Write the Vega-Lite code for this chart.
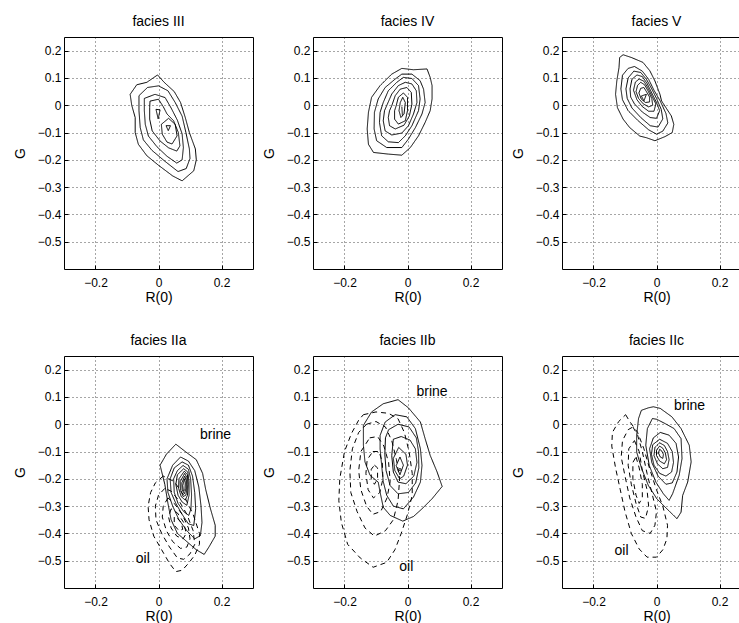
{
  "$schema": "https://vega.github.io/schema/vega-lite/v6.json",
  "background": "white",
  "padding": {"left": 12, "top": 14, "right": 5, "bottom": 5},
  "config": {
    "font": "Liberation Sans",
    "view": {"stroke": "black", "strokeWidth": 1},
    "axis": {
      "domain": false,
      "grid": true,
      "gridColor": "black",
      "gridDash": [1, 3],
      "gridWidth": 1,
      "gridOpacity": 0.7,
      "ticks": true,
      "tickColor": "black",
      "tickSize": -4,
      "labelFont": "Liberation Sans",
      "labelFontSize": 12,
      "labelColor": "black",
      "titleFont": "Liberation Sans",
      "titleFontSize": 14,
      "titleFontWeight": "normal",
      "titleColor": "black"
    }
  },
  "data": {"values": [
    {"p":"III","k":"brine","c":1,"x":-0.09,"y":0.04},{"p":"III","k":"brine","c":1,"x":-0.069,"y":0.075},{"p":"III","k":"brine","c":1,"x":-0.037,"y":0.084},{"p":"III","k":"brine","c":1,"x":-0.003,"y":0.111},{"p":"III","k":"brine","c":1,"x":0.018,"y":0.084},{"p":"III","k":"brine","c":1,"x":0.05,"y":0.05},{"p":"III","k":"brine","c":1,"x":0.07,"y":0.01},{"p":"III","k":"brine","c":1,"x":0.085,"y":-0.045},{"p":"III","k":"brine","c":1,"x":0.098,"y":-0.1},{"p":"III","k":"brine","c":1,"x":0.117,"y":-0.16},{"p":"III","k":"brine","c":1,"x":0.12,"y":-0.2},{"p":"III","k":"brine","c":1,"x":0.112,"y":-0.24},{"p":"III","k":"brine","c":1,"x":0.075,"y":-0.277},{"p":"III","k":"brine","c":1,"x":0.045,"y":-0.259},{"p":"III","k":"brine","c":1,"x":0.0,"y":-0.22},{"p":"III","k":"brine","c":1,"x":-0.037,"y":-0.185},{"p":"III","k":"brine","c":1,"x":-0.064,"y":-0.143},{"p":"III","k":"brine","c":1,"x":-0.074,"y":-0.1},{"p":"III","k":"brine","c":1,"x":-0.074,"y":-0.045},{"p":"III","k":"brine","c":1,"x":-0.085,"y":0.0},{"p":"III","k":"brine","c":1,"x":-0.09,"y":0.04},
    {"p":"III","k":"brine","c":2,"x":-0.062,"y":0.035},{"p":"III","k":"brine","c":2,"x":-0.035,"y":0.065},{"p":"III","k":"brine","c":2,"x":0.0,"y":0.071},{"p":"III","k":"brine","c":2,"x":0.03,"y":0.053},{"p":"III","k":"brine","c":2,"x":0.053,"y":0.01},{"p":"III","k":"brine","c":2,"x":0.075,"y":-0.04},{"p":"III","k":"brine","c":2,"x":0.087,"y":-0.1},{"p":"III","k":"brine","c":2,"x":0.098,"y":-0.16},{"p":"III","k":"brine","c":2,"x":0.1,"y":-0.195},{"p":"III","k":"brine","c":2,"x":0.088,"y":-0.232},{"p":"III","k":"brine","c":2,"x":0.062,"y":-0.243},{"p":"III","k":"brine","c":2,"x":0.02,"y":-0.205},{"p":"III","k":"brine","c":2,"x":-0.021,"y":-0.165},{"p":"III","k":"brine","c":2,"x":-0.048,"y":-0.127},{"p":"III","k":"brine","c":2,"x":-0.058,"y":-0.082},{"p":"III","k":"brine","c":2,"x":-0.062,"y":-0.02},{"p":"III","k":"brine","c":2,"x":-0.062,"y":0.035},
    {"p":"III","k":"brine","c":3,"x":-0.045,"y":0.025},{"p":"III","k":"brine","c":3,"x":-0.011,"y":0.04},{"p":"III","k":"brine","c":3,"x":0.021,"y":0.028},{"p":"III","k":"brine","c":3,"x":0.04,"y":-0.01},{"p":"III","k":"brine","c":3,"x":0.06,"y":-0.055},{"p":"III","k":"brine","c":3,"x":0.075,"y":-0.105},{"p":"III","k":"brine","c":3,"x":0.079,"y":-0.155},{"p":"III","k":"brine","c":3,"x":0.075,"y":-0.2},{"p":"III","k":"brine","c":3,"x":0.058,"y":-0.212},{"p":"III","k":"brine","c":3,"x":0.027,"y":-0.187},{"p":"III","k":"brine","c":3,"x":-0.005,"y":-0.152},{"p":"III","k":"brine","c":3,"x":-0.032,"y":-0.113},{"p":"III","k":"brine","c":3,"x":-0.042,"y":-0.07},{"p":"III","k":"brine","c":3,"x":-0.045,"y":-0.02},{"p":"III","k":"brine","c":3,"x":-0.045,"y":0.025},
    {"p":"III","k":"brine","c":4,"x":-0.027,"y":0.015},{"p":"III","k":"brine","c":4,"x":0.0,"y":0.022},{"p":"III","k":"brine","c":4,"x":0.015,"y":-0.005},{"p":"III","k":"brine","c":4,"x":0.027,"y":-0.032},{"p":"III","k":"brine","c":4,"x":0.048,"y":-0.057},{"p":"III","k":"brine","c":4,"x":0.063,"y":-0.1},{"p":"III","k":"brine","c":4,"x":0.068,"y":-0.149},{"p":"III","k":"brine","c":4,"x":0.058,"y":-0.168},{"p":"III","k":"brine","c":4,"x":0.032,"y":-0.156},{"p":"III","k":"brine","c":4,"x":0.005,"y":-0.131},{"p":"III","k":"brine","c":4,"x":-0.02,"y":-0.094},{"p":"III","k":"brine","c":4,"x":-0.028,"y":-0.051},{"p":"III","k":"brine","c":4,"x":-0.028,"y":-0.008},{"p":"III","k":"brine","c":4,"x":-0.027,"y":0.015},
    {"p":"III","k":"brine","c":5,"x":0.009,"y":-0.07},{"p":"III","k":"brine","c":5,"x":0.032,"y":-0.048},{"p":"III","k":"brine","c":5,"x":0.053,"y":-0.07},{"p":"III","k":"brine","c":5,"x":0.059,"y":-0.112},{"p":"III","k":"brine","c":5,"x":0.043,"y":-0.142},{"p":"III","k":"brine","c":5,"x":0.027,"y":-0.135},{"p":"III","k":"brine","c":5,"x":0.012,"y":-0.106},{"p":"III","k":"brine","c":5,"x":0.009,"y":-0.07},
    {"p":"III","k":"brine","c":6,"x":-0.008,"y":-0.015},{"p":"III","k":"brine","c":6,"x":0.005,"y":-0.017},{"p":"III","k":"brine","c":6,"x":-0.001,"y":-0.05},{"p":"III","k":"brine","c":6,"x":-0.008,"y":-0.015},
    {"p":"III","k":"brine","c":7,"x":0.024,"y":-0.075},{"p":"III","k":"brine","c":7,"x":0.038,"y":-0.075},{"p":"III","k":"brine","c":7,"x":0.031,"y":-0.093},{"p":"III","k":"brine","c":7,"x":0.024,"y":-0.075},

    {"p":"IV","k":"brine","c":1,"x":-0.114,"y":0.029},{"p":"IV","k":"brine","c":1,"x":-0.087,"y":0.072},{"p":"IV","k":"brine","c":1,"x":-0.05,"y":0.114},{"p":"IV","k":"brine","c":1,"x":-0.018,"y":0.135},{"p":"IV","k":"brine","c":1,"x":0.019,"y":0.13},{"p":"IV","k":"brine","c":1,"x":0.062,"y":0.133},{"p":"IV","k":"brine","c":1,"x":0.072,"y":0.102},{"p":"IV","k":"brine","c":1,"x":0.078,"y":0.072},{"p":"IV","k":"brine","c":1,"x":0.078,"y":0.023},{"p":"IV","k":"brine","c":1,"x":0.072,"y":-0.02},{"p":"IV","k":"brine","c":1,"x":0.056,"y":-0.063},{"p":"IV","k":"brine","c":1,"x":0.035,"y":-0.112},{"p":"IV","k":"brine","c":1,"x":0.009,"y":-0.155},{"p":"IV","k":"brine","c":1,"x":-0.018,"y":-0.183},{"p":"IV","k":"brine","c":1,"x":-0.061,"y":-0.179},{"p":"IV","k":"brine","c":1,"x":-0.108,"y":-0.173},{"p":"IV","k":"brine","c":1,"x":-0.124,"y":-0.143},{"p":"IV","k":"brine","c":1,"x":-0.128,"y":-0.087},{"p":"IV","k":"brine","c":1,"x":-0.124,"y":-0.026},{"p":"IV","k":"brine","c":1,"x":-0.114,"y":0.029},
    {"p":"IV","k":"brine","c":2,"x":-0.093,"y":0.023},{"p":"IV","k":"brine","c":2,"x":-0.071,"y":0.065},{"p":"IV","k":"brine","c":2,"x":-0.039,"y":0.096},{"p":"IV","k":"brine","c":2,"x":-0.018,"y":0.114},{"p":"IV","k":"brine","c":2,"x":0.014,"y":0.114},{"p":"IV","k":"brine","c":2,"x":0.04,"y":0.09},{"p":"IV","k":"brine","c":2,"x":0.051,"y":0.059},{"p":"IV","k":"brine","c":2,"x":0.056,"y":0.01},{"p":"IV","k":"brine","c":2,"x":0.046,"y":-0.032},{"p":"IV","k":"brine","c":2,"x":0.025,"y":-0.082},{"p":"IV","k":"brine","c":2,"x":0.003,"y":-0.124},{"p":"IV","k":"brine","c":2,"x":-0.018,"y":-0.155},{"p":"IV","k":"brine","c":2,"x":-0.066,"y":-0.155},{"p":"IV","k":"brine","c":2,"x":-0.098,"y":-0.13},{"p":"IV","k":"brine","c":2,"x":-0.106,"y":-0.087},{"p":"IV","k":"brine","c":2,"x":-0.105,"y":-0.026},{"p":"IV","k":"brine","c":2,"x":-0.093,"y":0.023},
    {"p":"IV","k":"brine","c":3,"x":-0.077,"y":0.01},{"p":"IV","k":"brine","c":3,"x":-0.061,"y":0.053},{"p":"IV","k":"brine","c":3,"x":-0.034,"y":0.084},{"p":"IV","k":"brine","c":3,"x":-0.013,"y":0.102},{"p":"IV","k":"brine","c":3,"x":0.014,"y":0.098},{"p":"IV","k":"brine","c":3,"x":0.035,"y":0.072},{"p":"IV","k":"brine","c":3,"x":0.04,"y":0.023},{"p":"IV","k":"brine","c":3,"x":0.035,"y":-0.02},{"p":"IV","k":"brine","c":3,"x":0.014,"y":-0.075},{"p":"IV","k":"brine","c":3,"x":-0.007,"y":-0.112},{"p":"IV","k":"brine","c":3,"x":-0.029,"y":-0.137},{"p":"IV","k":"brine","c":3,"x":-0.061,"y":-0.134},{"p":"IV","k":"brine","c":3,"x":-0.082,"y":-0.112},{"p":"IV","k":"brine","c":3,"x":-0.089,"y":-0.063},{"p":"IV","k":"brine","c":3,"x":-0.087,"y":-0.026},{"p":"IV","k":"brine","c":3,"x":-0.077,"y":0.01},
    {"p":"IV","k":"brine","c":4,"x":-0.064,"y":0.004},{"p":"IV","k":"brine","c":4,"x":-0.05,"y":0.041},{"p":"IV","k":"brine","c":4,"x":-0.029,"y":0.072},{"p":"IV","k":"brine","c":4,"x":-0.007,"y":0.084},{"p":"IV","k":"brine","c":4,"x":0.014,"y":0.078},{"p":"IV","k":"brine","c":4,"x":0.028,"y":0.053},{"p":"IV","k":"brine","c":4,"x":0.03,"y":0.01},{"p":"IV","k":"brine","c":4,"x":0.019,"y":-0.032},{"p":"IV","k":"brine","c":4,"x":0.003,"y":-0.075},{"p":"IV","k":"brine","c":4,"x":-0.018,"y":-0.102},{"p":"IV","k":"brine","c":4,"x":-0.05,"y":-0.109},{"p":"IV","k":"brine","c":4,"x":-0.071,"y":-0.094},{"p":"IV","k":"brine","c":4,"x":-0.077,"y":-0.057},{"p":"IV","k":"brine","c":4,"x":-0.073,"y":-0.02},{"p":"IV","k":"brine","c":4,"x":-0.064,"y":0.004},
    {"p":"IV","k":"brine","c":5,"x":-0.05,"y":-0.002},{"p":"IV","k":"brine","c":5,"x":-0.039,"y":0.035},{"p":"IV","k":"brine","c":5,"x":-0.023,"y":0.059},{"p":"IV","k":"brine","c":5,"x":-0.002,"y":0.065},{"p":"IV","k":"brine","c":5,"x":0.012,"y":0.047},{"p":"IV","k":"brine","c":5,"x":0.014,"y":0.004},{"p":"IV","k":"brine","c":5,"x":0.006,"y":-0.039},{"p":"IV","k":"brine","c":5,"x":-0.011,"y":-0.073},{"p":"IV","k":"brine","c":5,"x":-0.039,"y":-0.087},{"p":"IV","k":"brine","c":5,"x":-0.057,"y":-0.075},{"p":"IV","k":"brine","c":5,"x":-0.061,"y":-0.045},{"p":"IV","k":"brine","c":5,"x":-0.057,"y":-0.02},{"p":"IV","k":"brine","c":5,"x":-0.05,"y":-0.002},
    {"p":"IV","k":"brine","c":6,"x":-0.036,"y":-0.002},{"p":"IV","k":"brine","c":6,"x":-0.029,"y":0.029},{"p":"IV","k":"brine","c":6,"x":-0.013,"y":0.045},{"p":"IV","k":"brine","c":6,"x":0.0,"y":0.029},{"p":"IV","k":"brine","c":6,"x":0.0,"y":-0.02},{"p":"IV","k":"brine","c":6,"x":-0.007,"y":-0.057},{"p":"IV","k":"brine","c":6,"x":-0.029,"y":-0.069},{"p":"IV","k":"brine","c":6,"x":-0.041,"y":-0.051},{"p":"IV","k":"brine","c":6,"x":-0.041,"y":-0.02},{"p":"IV","k":"brine","c":6,"x":-0.036,"y":-0.002},
    {"p":"IV","k":"brine","c":7,"x":-0.023,"y":0.01},{"p":"IV","k":"brine","c":7,"x":-0.015,"y":0.029},{"p":"IV","k":"brine","c":7,"x":-0.007,"y":0.01},{"p":"IV","k":"brine","c":7,"x":-0.011,"y":-0.032},{"p":"IV","k":"brine","c":7,"x":-0.021,"y":-0.045},{"p":"IV","k":"brine","c":7,"x":-0.027,"y":-0.02},{"p":"IV","k":"brine","c":7,"x":-0.023,"y":0.01},
    {"p":"IV","k":"brine","c":8,"x":-0.018,"y":-0.005},{"p":"IV","k":"brine","c":8,"x":-0.016,"y":-0.04},

    {"p":"V","k":"brine","c":1,"x":-0.117,"y":0.175},{"p":"V","k":"brine","c":1,"x":-0.106,"y":0.185},{"p":"V","k":"brine","c":1,"x":-0.08,"y":0.175},{"p":"V","k":"brine","c":1,"x":-0.043,"y":0.157},{"p":"V","k":"brine","c":1,"x":-0.021,"y":0.126},{"p":"V","k":"brine","c":1,"x":-0.005,"y":0.089},{"p":"V","k":"brine","c":1,"x":0.011,"y":0.04},{"p":"V","k":"brine","c":1,"x":0.016,"y":0.016},{"p":"V","k":"brine","c":1,"x":0.03,"y":-0.009},{"p":"V","k":"brine","c":1,"x":0.047,"y":-0.039},{"p":"V","k":"brine","c":1,"x":0.055,"y":-0.07},{"p":"V","k":"brine","c":1,"x":0.05,"y":-0.1},{"p":"V","k":"brine","c":1,"x":0.027,"y":-0.115},{"p":"V","k":"brine","c":1,"x":-0.005,"y":-0.13},{"p":"V","k":"brine","c":1,"x":-0.032,"y":-0.119},{"p":"V","k":"brine","c":1,"x":-0.053,"y":-0.113},{"p":"V","k":"brine","c":1,"x":-0.085,"y":-0.082},{"p":"V","k":"brine","c":1,"x":-0.106,"y":-0.051},{"p":"V","k":"brine","c":1,"x":-0.124,"y":-0.009},{"p":"V","k":"brine","c":1,"x":-0.13,"y":0.04},{"p":"V","k":"brine","c":1,"x":-0.126,"y":0.089},{"p":"V","k":"brine","c":1,"x":-0.119,"y":0.138},{"p":"V","k":"brine","c":1,"x":-0.117,"y":0.175},
    {"p":"V","k":"brine","c":2,"x":-0.113,"y":0.06},{"p":"V","k":"brine","c":2,"x":-0.108,"y":0.11},{"p":"V","k":"brine","c":2,"x":-0.09,"y":0.135},{"p":"V","k":"brine","c":2,"x":-0.07,"y":0.142},{"p":"V","k":"brine","c":2,"x":-0.045,"y":0.125},{"p":"V","k":"brine","c":2,"x":-0.025,"y":0.095},{"p":"V","k":"brine","c":2,"x":-0.008,"y":0.055},{"p":"V","k":"brine","c":2,"x":0.012,"y":0.015},{"p":"V","k":"brine","c":2,"x":0.03,"y":-0.03},{"p":"V","k":"brine","c":2,"x":0.036,"y":-0.065},{"p":"V","k":"brine","c":2,"x":0.02,"y":-0.095},{"p":"V","k":"brine","c":2,"x":0.0,"y":-0.106},{"p":"V","k":"brine","c":2,"x":-0.025,"y":-0.09},{"p":"V","k":"brine","c":2,"x":-0.06,"y":-0.055},{"p":"V","k":"brine","c":2,"x":-0.09,"y":-0.02},{"p":"V","k":"brine","c":2,"x":-0.108,"y":0.02},{"p":"V","k":"brine","c":2,"x":-0.113,"y":0.06},
    {"p":"V","k":"brine","c":3,"x":-0.097,"y":0.06},{"p":"V","k":"brine","c":3,"x":-0.09,"y":0.1},{"p":"V","k":"brine","c":3,"x":-0.072,"y":0.125},{"p":"V","k":"brine","c":3,"x":-0.05,"y":0.12},{"p":"V","k":"brine","c":3,"x":-0.032,"y":0.095},{"p":"V","k":"brine","c":3,"x":-0.015,"y":0.06},{"p":"V","k":"brine","c":3,"x":0.0,"y":0.025},{"p":"V","k":"brine","c":3,"x":0.015,"y":-0.015},{"p":"V","k":"brine","c":3,"x":0.02,"y":-0.05},{"p":"V","k":"brine","c":3,"x":0.005,"y":-0.08},{"p":"V","k":"brine","c":3,"x":-0.02,"y":-0.075},{"p":"V","k":"brine","c":3,"x":-0.05,"y":-0.045},{"p":"V","k":"brine","c":3,"x":-0.078,"y":-0.01},{"p":"V","k":"brine","c":3,"x":-0.093,"y":0.025},{"p":"V","k":"brine","c":3,"x":-0.097,"y":0.06},
    {"p":"V","k":"brine","c":4,"x":-0.084,"y":0.06},{"p":"V","k":"brine","c":4,"x":-0.078,"y":0.095},{"p":"V","k":"brine","c":4,"x":-0.062,"y":0.111},{"p":"V","k":"brine","c":4,"x":-0.045,"y":0.105},{"p":"V","k":"brine","c":4,"x":-0.03,"y":0.08},{"p":"V","k":"brine","c":4,"x":-0.015,"y":0.045},{"p":"V","k":"brine","c":4,"x":0.0,"y":0.01},{"p":"V","k":"brine","c":4,"x":0.01,"y":-0.02},{"p":"V","k":"brine","c":4,"x":0.0,"y":-0.048},{"p":"V","k":"brine","c":4,"x":-0.02,"y":-0.045},{"p":"V","k":"brine","c":4,"x":-0.045,"y":-0.025},{"p":"V","k":"brine","c":4,"x":-0.07,"y":0.005},{"p":"V","k":"brine","c":4,"x":-0.082,"y":0.03},{"p":"V","k":"brine","c":4,"x":-0.084,"y":0.06},
    {"p":"V","k":"brine","c":5,"x":-0.073,"y":0.055},{"p":"V","k":"brine","c":5,"x":-0.067,"y":0.085},{"p":"V","k":"brine","c":5,"x":-0.055,"y":0.096},{"p":"V","k":"brine","c":5,"x":-0.04,"y":0.088},{"p":"V","k":"brine","c":5,"x":-0.028,"y":0.065},{"p":"V","k":"brine","c":5,"x":-0.015,"y":0.035},{"p":"V","k":"brine","c":5,"x":-0.002,"y":0.005},{"p":"V","k":"brine","c":5,"x":-0.008,"y":-0.022},{"p":"V","k":"brine","c":5,"x":-0.025,"y":-0.022},{"p":"V","k":"brine","c":5,"x":-0.045,"y":-0.005},{"p":"V","k":"brine","c":5,"x":-0.062,"y":0.02},{"p":"V","k":"brine","c":5,"x":-0.073,"y":0.055},
    {"p":"V","k":"brine","c":6,"x":-0.065,"y":0.05},{"p":"V","k":"brine","c":6,"x":-0.06,"y":0.073},{"p":"V","k":"brine","c":6,"x":-0.05,"y":0.084},{"p":"V","k":"brine","c":6,"x":-0.038,"y":0.075},{"p":"V","k":"brine","c":6,"x":-0.028,"y":0.055},{"p":"V","k":"brine","c":6,"x":-0.015,"y":0.025},{"p":"V","k":"brine","c":6,"x":-0.012,"y":0.0},{"p":"V","k":"brine","c":6,"x":-0.025,"y":-0.006},{"p":"V","k":"brine","c":6,"x":-0.042,"y":0.005},{"p":"V","k":"brine","c":6,"x":-0.057,"y":0.025},{"p":"V","k":"brine","c":6,"x":-0.065,"y":0.05},
    {"p":"V","k":"brine","c":7,"x":-0.056,"y":0.045},{"p":"V","k":"brine","c":7,"x":-0.05,"y":0.062},{"p":"V","k":"brine","c":7,"x":-0.04,"y":0.065},{"p":"V","k":"brine","c":7,"x":-0.032,"y":0.05},{"p":"V","k":"brine","c":7,"x":-0.022,"y":0.03},{"p":"V","k":"brine","c":7,"x":-0.022,"y":0.012},{"p":"V","k":"brine","c":7,"x":-0.035,"y":0.01},{"p":"V","k":"brine","c":7,"x":-0.048,"y":0.022},{"p":"V","k":"brine","c":7,"x":-0.056,"y":0.045},
    {"p":"V","k":"brine","c":8,"x":-0.048,"y":0.034},{"p":"V","k":"brine","c":8,"x":-0.032,"y":0.04},{"p":"V","k":"brine","c":8,"x":-0.04,"y":0.016},{"p":"V","k":"brine","c":8,"x":-0.048,"y":0.034},

    {"p":"IIa","k":"brine","c":1,"x":0.055,"y":-0.073},{"p":"IIa","k":"brine","c":1,"x":0.085,"y":-0.1},{"p":"IIa","k":"brine","c":1,"x":0.12,"y":-0.13},{"p":"IIa","k":"brine","c":1,"x":0.14,"y":-0.18},{"p":"IIa","k":"brine","c":1,"x":0.15,"y":-0.24},{"p":"IIa","k":"brine","c":1,"x":0.165,"y":-0.31},{"p":"IIa","k":"brine","c":1,"x":0.18,"y":-0.37},{"p":"IIa","k":"brine","c":1,"x":0.18,"y":-0.41},{"p":"IIa","k":"brine","c":1,"x":0.16,"y":-0.45},{"p":"IIa","k":"brine","c":1,"x":0.145,"y":-0.477},{"p":"IIa","k":"brine","c":1,"x":0.12,"y":-0.46},{"p":"IIa","k":"brine","c":1,"x":0.09,"y":-0.43},{"p":"IIa","k":"brine","c":1,"x":0.06,"y":-0.4},{"p":"IIa","k":"brine","c":1,"x":0.04,"y":-0.35},{"p":"IIa","k":"brine","c":1,"x":0.03,"y":-0.29},{"p":"IIa","k":"brine","c":1,"x":0.02,"y":-0.22},{"p":"IIa","k":"brine","c":1,"x":0.005,"y":-0.15},{"p":"IIa","k":"brine","c":1,"x":0.025,"y":-0.11},{"p":"IIa","k":"brine","c":1,"x":0.055,"y":-0.073},
    {"p":"IIa","k":"brine","c":2,"x":0.07,"y":-0.12},{"p":"IIa","k":"brine","c":2,"x":0.095,"y":-0.135},{"p":"IIa","k":"brine","c":2,"x":0.115,"y":-0.17},{"p":"IIa","k":"brine","c":2,"x":0.128,"y":-0.23},{"p":"IIa","k":"brine","c":2,"x":0.135,"y":-0.3},{"p":"IIa","k":"brine","c":2,"x":0.138,"y":-0.36},{"p":"IIa","k":"brine","c":2,"x":0.133,"y":-0.408},{"p":"IIa","k":"brine","c":2,"x":0.115,"y":-0.42},{"p":"IIa","k":"brine","c":2,"x":0.09,"y":-0.39},{"p":"IIa","k":"brine","c":2,"x":0.065,"y":-0.35},{"p":"IIa","k":"brine","c":2,"x":0.045,"y":-0.3},{"p":"IIa","k":"brine","c":2,"x":0.03,"y":-0.25},{"p":"IIa","k":"brine","c":2,"x":0.027,"y":-0.2},{"p":"IIa","k":"brine","c":2,"x":0.045,"y":-0.15},{"p":"IIa","k":"brine","c":2,"x":0.07,"y":-0.12},
    {"p":"IIa","k":"brine","c":3,"x":0.075,"y":-0.138},{"p":"IIa","k":"brine","c":3,"x":0.095,"y":-0.15},{"p":"IIa","k":"brine","c":3,"x":0.108,"y":-0.19},{"p":"IIa","k":"brine","c":3,"x":0.115,"y":-0.25},{"p":"IIa","k":"brine","c":3,"x":0.118,"y":-0.31},{"p":"IIa","k":"brine","c":3,"x":0.112,"y":-0.371},{"p":"IIa","k":"brine","c":3,"x":0.095,"y":-0.365},{"p":"IIa","k":"brine","c":3,"x":0.075,"y":-0.33},{"p":"IIa","k":"brine","c":3,"x":0.055,"y":-0.29},{"p":"IIa","k":"brine","c":3,"x":0.04,"y":-0.25},{"p":"IIa","k":"brine","c":3,"x":0.037,"y":-0.2},{"p":"IIa","k":"brine","c":3,"x":0.05,"y":-0.16},{"p":"IIa","k":"brine","c":3,"x":0.075,"y":-0.138},
    {"p":"IIa","k":"brine","c":4,"x":0.078,"y":-0.151},{"p":"IIa","k":"brine","c":4,"x":0.095,"y":-0.165},{"p":"IIa","k":"brine","c":4,"x":0.102,"y":-0.2},{"p":"IIa","k":"brine","c":4,"x":0.105,"y":-0.26},{"p":"IIa","k":"brine","c":4,"x":0.103,"y":-0.31},{"p":"IIa","k":"brine","c":4,"x":0.096,"y":-0.334},{"p":"IIa","k":"brine","c":4,"x":0.08,"y":-0.32},{"p":"IIa","k":"brine","c":4,"x":0.062,"y":-0.29},{"p":"IIa","k":"brine","c":4,"x":0.05,"y":-0.25},{"p":"IIa","k":"brine","c":4,"x":0.048,"y":-0.2},{"p":"IIa","k":"brine","c":4,"x":0.06,"y":-0.17},{"p":"IIa","k":"brine","c":4,"x":0.078,"y":-0.151},
    {"p":"IIa","k":"brine","c":5,"x":0.08,"y":-0.163},{"p":"IIa","k":"brine","c":5,"x":0.093,"y":-0.175},{"p":"IIa","k":"brine","c":5,"x":0.097,"y":-0.21},{"p":"IIa","k":"brine","c":5,"x":0.097,"y":-0.26},{"p":"IIa","k":"brine","c":5,"x":0.09,"y":-0.297},{"p":"IIa","k":"brine","c":5,"x":0.075,"y":-0.285},{"p":"IIa","k":"brine","c":5,"x":0.062,"y":-0.26},{"p":"IIa","k":"brine","c":5,"x":0.055,"y":-0.22},{"p":"IIa","k":"brine","c":5,"x":0.06,"y":-0.185},{"p":"IIa","k":"brine","c":5,"x":0.08,"y":-0.163},
    {"p":"IIa","k":"brine","c":6,"x":0.082,"y":-0.172},{"p":"IIa","k":"brine","c":6,"x":0.092,"y":-0.185},{"p":"IIa","k":"brine","c":6,"x":0.094,"y":-0.22},{"p":"IIa","k":"brine","c":6,"x":0.092,"y":-0.26},{"p":"IIa","k":"brine","c":6,"x":0.085,"y":-0.278},{"p":"IIa","k":"brine","c":6,"x":0.072,"y":-0.265},{"p":"IIa","k":"brine","c":6,"x":0.064,"y":-0.235},{"p":"IIa","k":"brine","c":6,"x":0.065,"y":-0.2},{"p":"IIa","k":"brine","c":6,"x":0.082,"y":-0.172},
    {"p":"IIa","k":"brine","c":7,"x":0.083,"y":-0.18},{"p":"IIa","k":"brine","c":7,"x":0.09,"y":-0.195},{"p":"IIa","k":"brine","c":7,"x":0.091,"y":-0.23},{"p":"IIa","k":"brine","c":7,"x":0.087,"y":-0.26},{"p":"IIa","k":"brine","c":7,"x":0.078,"y":-0.265},{"p":"IIa","k":"brine","c":7,"x":0.07,"y":-0.24},{"p":"IIa","k":"brine","c":7,"x":0.069,"y":-0.21},{"p":"IIa","k":"brine","c":7,"x":0.083,"y":-0.18},
    {"p":"IIa","k":"brine","c":8,"x":0.083,"y":-0.19},{"p":"IIa","k":"brine","c":8,"x":0.088,"y":-0.205},{"p":"IIa","k":"brine","c":8,"x":0.088,"y":-0.235},{"p":"IIa","k":"brine","c":8,"x":0.082,"y":-0.255},{"p":"IIa","k":"brine","c":8,"x":0.075,"y":-0.24},{"p":"IIa","k":"brine","c":8,"x":0.074,"y":-0.215},{"p":"IIa","k":"brine","c":8,"x":0.083,"y":-0.19},
    {"p":"IIa","k":"brine","c":9,"x":0.082,"y":-0.2},{"p":"IIa","k":"brine","c":9,"x":0.085,"y":-0.215},{"p":"IIa","k":"brine","c":9,"x":0.084,"y":-0.24},{"p":"IIa","k":"brine","c":9,"x":0.079,"y":-0.245},{"p":"IIa","k":"brine","c":9,"x":0.077,"y":-0.225},{"p":"IIa","k":"brine","c":9,"x":0.082,"y":-0.2},
    {"p":"IIa","k":"oil","c":1,"x":0.015,"y":-0.19},{"p":"IIa","k":"oil","c":1,"x":-0.01,"y":-0.215},{"p":"IIa","k":"oil","c":1,"x":-0.025,"y":-0.25},{"p":"IIa","k":"oil","c":1,"x":-0.033,"y":-0.3},{"p":"IIa","k":"oil","c":1,"x":-0.03,"y":-0.35},{"p":"IIa","k":"oil","c":1,"x":-0.015,"y":-0.41},{"p":"IIa","k":"oil","c":1,"x":0.01,"y":-0.46},{"p":"IIa","k":"oil","c":1,"x":0.035,"y":-0.51},{"p":"IIa","k":"oil","c":1,"x":0.055,"y":-0.54},{"p":"IIa","k":"oil","c":1,"x":0.075,"y":-0.535},{"p":"IIa","k":"oil","c":1,"x":0.095,"y":-0.51},{"p":"IIa","k":"oil","c":1,"x":0.115,"y":-0.48},{"p":"IIa","k":"oil","c":1,"x":0.13,"y":-0.44},{"p":"IIa","k":"oil","c":1,"x":0.13,"y":-0.4},{"p":"IIa","k":"oil","c":1,"x":0.11,"y":-0.33},{"p":"IIa","k":"oil","c":1,"x":0.08,"y":-0.26},{"p":"IIa","k":"oil","c":1,"x":0.05,"y":-0.21},{"p":"IIa","k":"oil","c":1,"x":0.015,"y":-0.19},
    {"p":"IIa","k":"oil","c":2,"x":0.02,"y":-0.235},{"p":"IIa","k":"oil","c":2,"x":0.0,"y":-0.26},{"p":"IIa","k":"oil","c":2,"x":-0.01,"y":-0.3},{"p":"IIa","k":"oil","c":2,"x":-0.008,"y":-0.35},{"p":"IIa","k":"oil","c":2,"x":0.01,"y":-0.4},{"p":"IIa","k":"oil","c":2,"x":0.035,"y":-0.45},{"p":"IIa","k":"oil","c":2,"x":0.06,"y":-0.49},{"p":"IIa","k":"oil","c":2,"x":0.08,"y":-0.495},{"p":"IIa","k":"oil","c":2,"x":0.1,"y":-0.475},{"p":"IIa","k":"oil","c":2,"x":0.115,"y":-0.44},{"p":"IIa","k":"oil","c":2,"x":0.11,"y":-0.39},{"p":"IIa","k":"oil","c":2,"x":0.09,"y":-0.33},{"p":"IIa","k":"oil","c":2,"x":0.065,"y":-0.28},{"p":"IIa","k":"oil","c":2,"x":0.04,"y":-0.245},{"p":"IIa","k":"oil","c":2,"x":0.02,"y":-0.235},
    {"p":"IIa","k":"oil","c":3,"x":0.03,"y":-0.27},{"p":"IIa","k":"oil","c":3,"x":0.015,"y":-0.3},{"p":"IIa","k":"oil","c":3,"x":0.012,"y":-0.34},{"p":"IIa","k":"oil","c":3,"x":0.025,"y":-0.39},{"p":"IIa","k":"oil","c":3,"x":0.045,"y":-0.43},{"p":"IIa","k":"oil","c":3,"x":0.07,"y":-0.455},{"p":"IIa","k":"oil","c":3,"x":0.09,"y":-0.45},{"p":"IIa","k":"oil","c":3,"x":0.1,"y":-0.42},{"p":"IIa","k":"oil","c":3,"x":0.095,"y":-0.38},{"p":"IIa","k":"oil","c":3,"x":0.075,"y":-0.33},{"p":"IIa","k":"oil","c":3,"x":0.05,"y":-0.29},{"p":"IIa","k":"oil","c":3,"x":0.03,"y":-0.27},
    {"p":"IIa","k":"oil","c":4,"x":0.04,"y":-0.31},{"p":"IIa","k":"oil","c":4,"x":0.032,"y":-0.34},{"p":"IIa","k":"oil","c":4,"x":0.04,"y":-0.38},{"p":"IIa","k":"oil","c":4,"x":0.058,"y":-0.41},{"p":"IIa","k":"oil","c":4,"x":0.078,"y":-0.42},{"p":"IIa","k":"oil","c":4,"x":0.088,"y":-0.4},{"p":"IIa","k":"oil","c":4,"x":0.08,"y":-0.36},{"p":"IIa","k":"oil","c":4,"x":0.06,"y":-0.325},{"p":"IIa","k":"oil","c":4,"x":0.04,"y":-0.31},
    {"p":"IIa","k":"oil","c":5,"x":0.05,"y":-0.34},{"p":"IIa","k":"oil","c":5,"x":0.05,"y":-0.37},{"p":"IIa","k":"oil","c":5,"x":0.065,"y":-0.39},{"p":"IIa","k":"oil","c":5,"x":0.077,"y":-0.385},{"p":"IIa","k":"oil","c":5,"x":0.072,"y":-0.36},{"p":"IIa","k":"oil","c":5,"x":0.06,"y":-0.345},{"p":"IIa","k":"oil","c":5,"x":0.05,"y":-0.34},

    {"p":"IIb","k":"brine","c":1,"x":-0.14,"y":-0.004},{"p":"IIb","k":"brine","c":1,"x":-0.114,"y":0.045},{"p":"IIb","k":"brine","c":1,"x":-0.077,"y":0.075},{"p":"IIb","k":"brine","c":1,"x":-0.03,"y":0.09},{"p":"IIb","k":"brine","c":1,"x":0.003,"y":0.06},{"p":"IIb","k":"brine","c":1,"x":0.041,"y":0.008},{"p":"IIb","k":"brine","c":1,"x":0.056,"y":-0.053},{"p":"IIb","k":"brine","c":1,"x":0.072,"y":-0.114},{"p":"IIb","k":"brine","c":1,"x":0.094,"y":-0.175},{"p":"IIb","k":"brine","c":1,"x":0.11,"y":-0.228},{"p":"IIb","k":"brine","c":1,"x":0.078,"y":-0.273},{"p":"IIb","k":"brine","c":1,"x":0.046,"y":-0.31},{"p":"IIb","k":"brine","c":1,"x":0.019,"y":-0.338},{"p":"IIb","k":"brine","c":1,"x":-0.015,"y":-0.355},{"p":"IIb","k":"brine","c":1,"x":-0.055,"y":-0.334},{"p":"IIb","k":"brine","c":1,"x":-0.077,"y":-0.304},{"p":"IIb","k":"brine","c":1,"x":-0.087,"y":-0.249},{"p":"IIb","k":"brine","c":1,"x":-0.093,"y":-0.212},{"p":"IIb","k":"brine","c":1,"x":-0.119,"y":-0.187},{"p":"IIb","k":"brine","c":1,"x":-0.135,"y":-0.138},{"p":"IIb","k":"brine","c":1,"x":-0.14,"y":-0.077},{"p":"IIb","k":"brine","c":1,"x":-0.14,"y":-0.004},
    {"p":"IIb","k":"brine","c":2,"x":-0.039,"y":0.035},{"p":"IIb","k":"brine","c":2,"x":-0.002,"y":0.027},{"p":"IIb","k":"brine","c":2,"x":0.025,"y":-0.016},{"p":"IIb","k":"brine","c":2,"x":0.041,"y":-0.09},{"p":"IIb","k":"brine","c":2,"x":0.046,"y":-0.151},{"p":"IIb","k":"brine","c":2,"x":0.041,"y":-0.212},{"p":"IIb","k":"brine","c":2,"x":0.019,"y":-0.267},{"p":"IIb","k":"brine","c":2,"x":-0.013,"y":-0.31},{"p":"IIb","k":"brine","c":2,"x":-0.045,"y":-0.3},{"p":"IIb","k":"brine","c":2,"x":-0.066,"y":-0.26},{"p":"IIb","k":"brine","c":2,"x":-0.077,"y":-0.21},{"p":"IIb","k":"brine","c":2,"x":-0.082,"y":-0.151},{"p":"IIb","k":"brine","c":2,"x":-0.087,"y":-0.09},{"p":"IIb","k":"brine","c":2,"x":-0.087,"y":-0.041},{"p":"IIb","k":"brine","c":2,"x":-0.071,"y":0.008},{"p":"IIb","k":"brine","c":2,"x":-0.039,"y":0.035},
    {"p":"IIb","k":"brine","c":3,"x":-0.06,"y":-0.02},{"p":"IIb","k":"brine","c":3,"x":-0.03,"y":0.0},{"p":"IIb","k":"brine","c":3,"x":0.005,"y":-0.01},{"p":"IIb","k":"brine","c":3,"x":0.028,"y":-0.05},{"p":"IIb","k":"brine","c":3,"x":0.035,"y":-0.1},{"p":"IIb","k":"brine","c":3,"x":0.036,"y":-0.16},{"p":"IIb","k":"brine","c":3,"x":0.026,"y":-0.215},{"p":"IIb","k":"brine","c":3,"x":0.003,"y":-0.25},{"p":"IIb","k":"brine","c":3,"x":-0.03,"y":-0.255},{"p":"IIb","k":"brine","c":3,"x":-0.055,"y":-0.225},{"p":"IIb","k":"brine","c":3,"x":-0.068,"y":-0.17},{"p":"IIb","k":"brine","c":3,"x":-0.072,"y":-0.11},{"p":"IIb","k":"brine","c":3,"x":-0.07,"y":-0.05},{"p":"IIb","k":"brine","c":3,"x":-0.06,"y":-0.02},
    {"p":"IIb","k":"brine","c":4,"x":-0.045,"y":-0.055},{"p":"IIb","k":"brine","c":4,"x":-0.02,"y":-0.045},{"p":"IIb","k":"brine","c":4,"x":0.008,"y":-0.058},{"p":"IIb","k":"brine","c":4,"x":0.025,"y":-0.09},{"p":"IIb","k":"brine","c":4,"x":0.03,"y":-0.14},{"p":"IIb","k":"brine","c":4,"x":0.02,"y":-0.19},{"p":"IIb","k":"brine","c":4,"x":-0.005,"y":-0.218},{"p":"IIb","k":"brine","c":4,"x":-0.03,"y":-0.212},{"p":"IIb","k":"brine","c":4,"x":-0.045,"y":-0.175},{"p":"IIb","k":"brine","c":4,"x":-0.05,"y":-0.115},{"p":"IIb","k":"brine","c":4,"x":-0.045,"y":-0.055},
    {"p":"IIb","k":"brine","c":5,"x":-0.028,"y":-0.085},{"p":"IIb","k":"brine","c":5,"x":-0.005,"y":-0.11},{"p":"IIb","k":"brine","c":5,"x":0.0,"y":-0.15},{"p":"IIb","k":"brine","c":5,"x":-0.012,"y":-0.19},{"p":"IIb","k":"brine","c":5,"x":-0.025,"y":-0.2},{"p":"IIb","k":"brine","c":5,"x":-0.04,"y":-0.17},{"p":"IIb","k":"brine","c":5,"x":-0.045,"y":-0.125},{"p":"IIb","k":"brine","c":5,"x":-0.028,"y":-0.085},
    {"p":"IIb","k":"brine","c":6,"x":-0.024,"y":-0.12},{"p":"IIb","k":"brine","c":6,"x":-0.013,"y":-0.15},{"p":"IIb","k":"brine","c":6,"x":-0.024,"y":-0.185},{"p":"IIb","k":"brine","c":6,"x":-0.036,"y":-0.152},{"p":"IIb","k":"brine","c":6,"x":-0.024,"y":-0.12},
    {"p":"IIb","k":"brine","c":7,"x":-0.024,"y":-0.161},{"p":"IIb","k":"brine","c":7,"x":-0.021,"y":-0.166},{"p":"IIb","k":"brine","c":7,"x":-0.024,"y":-0.171},{"p":"IIb","k":"brine","c":7,"x":-0.027,"y":-0.166},{"p":"IIb","k":"brine","c":7,"x":-0.024,"y":-0.161},
    {"p":"IIb","k":"oil","c":1,"x":-0.14,"y":0.035},{"p":"IIb","k":"oil","c":1,"x":-0.1,"y":0.045},{"p":"IIb","k":"oil","c":1,"x":-0.06,"y":0.04},{"p":"IIb","k":"oil","c":1,"x":-0.03,"y":0.02},{"p":"IIb","k":"oil","c":1,"x":-0.01,"y":-0.03},{"p":"IIb","k":"oil","c":1,"x":0.005,"y":-0.1},{"p":"IIb","k":"oil","c":1,"x":0.015,"y":-0.18},{"p":"IIb","k":"oil","c":1,"x":0.015,"y":-0.26},{"p":"IIb","k":"oil","c":1,"x":0.0,"y":-0.33},{"p":"IIb","k":"oil","c":1,"x":-0.02,"y":-0.4},{"p":"IIb","k":"oil","c":1,"x":-0.04,"y":-0.46},{"p":"IIb","k":"oil","c":1,"x":-0.066,"y":-0.506},{"p":"IIb","k":"oil","c":1,"x":-0.109,"y":-0.524},{"p":"IIb","k":"oil","c":1,"x":-0.15,"y":-0.49},{"p":"IIb","k":"oil","c":1,"x":-0.19,"y":-0.44},{"p":"IIb","k":"oil","c":1,"x":-0.21,"y":-0.36},{"p":"IIb","k":"oil","c":1,"x":-0.218,"y":-0.28},{"p":"IIb","k":"oil","c":1,"x":-0.215,"y":-0.2},{"p":"IIb","k":"oil","c":1,"x":-0.2,"y":-0.1},{"p":"IIb","k":"oil","c":1,"x":-0.178,"y":-0.034},{"p":"IIb","k":"oil","c":1,"x":-0.155,"y":0.015},{"p":"IIb","k":"oil","c":1,"x":-0.14,"y":0.035},
    {"p":"IIb","k":"oil","c":2,"x":-0.13,"y":0.0},{"p":"IIb","k":"oil","c":2,"x":-0.1,"y":0.01},{"p":"IIb","k":"oil","c":2,"x":-0.07,"y":-0.01},{"p":"IIb","k":"oil","c":2,"x":-0.05,"y":-0.06},{"p":"IIb","k":"oil","c":2,"x":-0.035,"y":-0.13},{"p":"IIb","k":"oil","c":2,"x":-0.025,"y":-0.2},{"p":"IIb","k":"oil","c":2,"x":-0.03,"y":-0.28},{"p":"IIb","k":"oil","c":2,"x":-0.045,"y":-0.35},{"p":"IIb","k":"oil","c":2,"x":-0.07,"y":-0.39},{"p":"IIb","k":"oil","c":2,"x":-0.105,"y":-0.41},{"p":"IIb","k":"oil","c":2,"x":-0.135,"y":-0.38},{"p":"IIb","k":"oil","c":2,"x":-0.16,"y":-0.32},{"p":"IIb","k":"oil","c":2,"x":-0.18,"y":-0.25},{"p":"IIb","k":"oil","c":2,"x":-0.183,"y":-0.17},{"p":"IIb","k":"oil","c":2,"x":-0.175,"y":-0.09},{"p":"IIb","k":"oil","c":2,"x":-0.155,"y":-0.03},{"p":"IIb","k":"oil","c":2,"x":-0.13,"y":0.0},
    {"p":"IIb","k":"oil","c":3,"x":-0.12,"y":-0.05},{"p":"IIb","k":"oil","c":3,"x":-0.095,"y":-0.045},{"p":"IIb","k":"oil","c":3,"x":-0.075,"y":-0.08},{"p":"IIb","k":"oil","c":3,"x":-0.06,"y":-0.14},{"p":"IIb","k":"oil","c":3,"x":-0.055,"y":-0.21},{"p":"IIb","k":"oil","c":3,"x":-0.065,"y":-0.27},{"p":"IIb","k":"oil","c":3,"x":-0.085,"y":-0.32},{"p":"IIb","k":"oil","c":3,"x":-0.11,"y":-0.33},{"p":"IIb","k":"oil","c":3,"x":-0.13,"y":-0.3},{"p":"IIb","k":"oil","c":3,"x":-0.148,"y":-0.24},{"p":"IIb","k":"oil","c":3,"x":-0.155,"y":-0.17},{"p":"IIb","k":"oil","c":3,"x":-0.148,"y":-0.1},{"p":"IIb","k":"oil","c":3,"x":-0.12,"y":-0.05},
    {"p":"IIb","k":"oil","c":4,"x":-0.11,"y":-0.1},{"p":"IIb","k":"oil","c":4,"x":-0.09,"y":-0.1},{"p":"IIb","k":"oil","c":4,"x":-0.08,"y":-0.14},{"p":"IIb","k":"oil","c":4,"x":-0.078,"y":-0.2},{"p":"IIb","k":"oil","c":4,"x":-0.088,"y":-0.25},{"p":"IIb","k":"oil","c":4,"x":-0.108,"y":-0.27},{"p":"IIb","k":"oil","c":4,"x":-0.125,"y":-0.24},{"p":"IIb","k":"oil","c":4,"x":-0.132,"y":-0.18},{"p":"IIb","k":"oil","c":4,"x":-0.128,"y":-0.13},{"p":"IIb","k":"oil","c":4,"x":-0.11,"y":-0.1},
    {"p":"IIb","k":"oil","c":5,"x":-0.105,"y":-0.15},{"p":"IIb","k":"oil","c":5,"x":-0.095,"y":-0.16},{"p":"IIb","k":"oil","c":5,"x":-0.095,"y":-0.2},{"p":"IIb","k":"oil","c":5,"x":-0.105,"y":-0.22},{"p":"IIb","k":"oil","c":5,"x":-0.115,"y":-0.2},{"p":"IIb","k":"oil","c":5,"x":-0.115,"y":-0.165},{"p":"IIb","k":"oil","c":5,"x":-0.105,"y":-0.15},

    {"p":"IIc","k":"brine","c":1,"x":-0.026,"y":0.06},{"p":"IIc","k":"brine","c":1,"x":-0.048,"y":0.051},{"p":"IIc","k":"brine","c":1,"x":-0.057,"y":0.021},{"p":"IIc","k":"brine","c":1,"x":-0.063,"y":-0.04},{"p":"IIc","k":"brine","c":1,"x":-0.063,"y":-0.102},{"p":"IIc","k":"brine","c":1,"x":-0.047,"y":-0.163},{"p":"IIc","k":"brine","c":1,"x":-0.026,"y":-0.224},{"p":"IIc","k":"brine","c":1,"x":0.001,"y":-0.273},{"p":"IIc","k":"brine","c":1,"x":0.033,"y":-0.31},{"p":"IIc","k":"brine","c":1,"x":0.065,"y":-0.346},{"p":"IIc","k":"brine","c":1,"x":0.078,"y":-0.322},{"p":"IIc","k":"brine","c":1,"x":0.083,"y":-0.261},{"p":"IIc","k":"brine","c":1,"x":0.099,"y":-0.212},{"p":"IIc","k":"brine","c":1,"x":0.11,"y":-0.138},{"p":"IIc","k":"brine","c":1,"x":0.104,"y":-0.077},{"p":"IIc","k":"brine","c":1,"x":0.078,"y":-0.016},{"p":"IIc","k":"brine","c":1,"x":0.049,"y":0.027},{"p":"IIc","k":"brine","c":1,"x":0.012,"y":0.058},{"p":"IIc","k":"brine","c":1,"x":-0.01,"y":0.064},{"p":"IIc","k":"brine","c":1,"x":-0.026,"y":0.06},
    {"p":"IIc","k":"brine","c":2,"x":-0.013,"y":0.021},{"p":"IIc","k":"brine","c":2,"x":-0.029,"y":-0.016},{"p":"IIc","k":"brine","c":2,"x":-0.034,"y":-0.077},{"p":"IIc","k":"brine","c":2,"x":-0.023,"y":-0.151},{"p":"IIc","k":"brine","c":2,"x":-0.002,"y":-0.212},{"p":"IIc","k":"brine","c":2,"x":0.022,"y":-0.255},{"p":"IIc","k":"brine","c":2,"x":0.04,"y":-0.279},{"p":"IIc","k":"brine","c":2,"x":0.051,"y":-0.255},{"p":"IIc","k":"brine","c":2,"x":0.072,"y":-0.187},{"p":"IIc","k":"brine","c":2,"x":0.081,"y":-0.126},{"p":"IIc","k":"brine","c":2,"x":0.078,"y":-0.053},{"p":"IIc","k":"brine","c":2,"x":0.056,"y":-0.016},{"p":"IIc","k":"brine","c":2,"x":0.028,"y":0.002},{"p":"IIc","k":"brine","c":2,"x":0.001,"y":0.018},{"p":"IIc","k":"brine","c":2,"x":-0.013,"y":0.021},
    {"p":"IIc","k":"brine","c":3,"x":0.012,"y":-0.03},{"p":"IIc","k":"brine","c":3,"x":-0.01,"y":-0.05},{"p":"IIc","k":"brine","c":3,"x":-0.022,"y":-0.09},{"p":"IIc","k":"brine","c":3,"x":-0.015,"y":-0.14},{"p":"IIc","k":"brine","c":3,"x":0.005,"y":-0.19},{"p":"IIc","k":"brine","c":3,"x":0.03,"y":-0.22},{"p":"IIc","k":"brine","c":3,"x":0.05,"y":-0.215},{"p":"IIc","k":"brine","c":3,"x":0.065,"y":-0.175},{"p":"IIc","k":"brine","c":3,"x":0.07,"y":-0.12},{"p":"IIc","k":"brine","c":3,"x":0.062,"y":-0.07},{"p":"IIc","k":"brine","c":3,"x":0.04,"y":-0.04},{"p":"IIc","k":"brine","c":3,"x":0.012,"y":-0.03},
    {"p":"IIc","k":"brine","c":4,"x":0.01,"y":-0.055},{"p":"IIc","k":"brine","c":4,"x":-0.012,"y":-0.075},{"p":"IIc","k":"brine","c":4,"x":-0.016,"y":-0.11},{"p":"IIc","k":"brine","c":4,"x":-0.008,"y":-0.15},{"p":"IIc","k":"brine","c":4,"x":0.01,"y":-0.18},{"p":"IIc","k":"brine","c":4,"x":0.03,"y":-0.19},{"p":"IIc","k":"brine","c":4,"x":0.048,"y":-0.175},{"p":"IIc","k":"brine","c":4,"x":0.054,"y":-0.14},{"p":"IIc","k":"brine","c":4,"x":0.05,"y":-0.1},{"p":"IIc","k":"brine","c":4,"x":0.035,"y":-0.07},{"p":"IIc","k":"brine","c":4,"x":0.01,"y":-0.055},
    {"p":"IIc","k":"brine","c":5,"x":0.01,"y":-0.068},{"p":"IIc","k":"brine","c":5,"x":-0.005,"y":-0.085},{"p":"IIc","k":"brine","c":5,"x":-0.008,"y":-0.115},{"p":"IIc","k":"brine","c":5,"x":0.003,"y":-0.145},{"p":"IIc","k":"brine","c":5,"x":0.02,"y":-0.163},{"p":"IIc","k":"brine","c":5,"x":0.035,"y":-0.158},{"p":"IIc","k":"brine","c":5,"x":0.04,"y":-0.13},{"p":"IIc","k":"brine","c":5,"x":0.035,"y":-0.1},{"p":"IIc","k":"brine","c":5,"x":0.025,"y":-0.078},{"p":"IIc","k":"brine","c":5,"x":0.01,"y":-0.068},
    {"p":"IIc","k":"brine","c":6,"x":0.01,"y":-0.08},{"p":"IIc","k":"brine","c":6,"x":0.0,"y":-0.095},{"p":"IIc","k":"brine","c":6,"x":0.0,"y":-0.115},{"p":"IIc","k":"brine","c":6,"x":0.01,"y":-0.135},{"p":"IIc","k":"brine","c":6,"x":0.025,"y":-0.145},{"p":"IIc","k":"brine","c":6,"x":0.032,"y":-0.13},{"p":"IIc","k":"brine","c":6,"x":0.028,"y":-0.105},{"p":"IIc","k":"brine","c":6,"x":0.02,"y":-0.088},{"p":"IIc","k":"brine","c":6,"x":0.01,"y":-0.08},
    {"p":"IIc","k":"brine","c":7,"x":0.01,"y":-0.092},{"p":"IIc","k":"brine","c":7,"x":0.006,"y":-0.105},{"p":"IIc","k":"brine","c":7,"x":0.012,"y":-0.12},{"p":"IIc","k":"brine","c":7,"x":0.02,"y":-0.125},{"p":"IIc","k":"brine","c":7,"x":0.022,"y":-0.11},{"p":"IIc","k":"brine","c":7,"x":0.016,"y":-0.097},{"p":"IIc","k":"brine","c":7,"x":0.01,"y":-0.092},
    {"p":"IIc","k":"oil","c":1,"x":-0.098,"y":0.035},{"p":"IIc","k":"oil","c":1,"x":-0.085,"y":0.01},{"p":"IIc","k":"oil","c":1,"x":-0.06,"y":-0.03},{"p":"IIc","k":"oil","c":1,"x":-0.04,"y":-0.09},{"p":"IIc","k":"oil","c":1,"x":-0.02,"y":-0.17},{"p":"IIc","k":"oil","c":1,"x":0.0,"y":-0.24},{"p":"IIc","k":"oil","c":1,"x":0.02,"y":-0.3},{"p":"IIc","k":"oil","c":1,"x":0.035,"y":-0.37},{"p":"IIc","k":"oil","c":1,"x":0.033,"y":-0.42},{"p":"IIc","k":"oil","c":1,"x":0.02,"y":-0.46},{"p":"IIc","k":"oil","c":1,"x":0.0,"y":-0.487},{"p":"IIc","k":"oil","c":1,"x":-0.03,"y":-0.487},{"p":"IIc","k":"oil","c":1,"x":-0.055,"y":-0.457},{"p":"IIc","k":"oil","c":1,"x":-0.08,"y":-0.4},{"p":"IIc","k":"oil","c":1,"x":-0.1,"y":-0.32},{"p":"IIc","k":"oil","c":1,"x":-0.115,"y":-0.24},{"p":"IIc","k":"oil","c":1,"x":-0.13,"y":-0.16},{"p":"IIc","k":"oil","c":1,"x":-0.142,"y":-0.08},{"p":"IIc","k":"oil","c":1,"x":-0.14,"y":-0.03},{"p":"IIc","k":"oil","c":1,"x":-0.12,"y":0.01},{"p":"IIc","k":"oil","c":1,"x":-0.098,"y":0.035},
    {"p":"IIc","k":"oil","c":2,"x":-0.075,"y":-0.01},{"p":"IIc","k":"oil","c":2,"x":-0.06,"y":-0.04},{"p":"IIc","k":"oil","c":2,"x":-0.045,"y":-0.1},{"p":"IIc","k":"oil","c":2,"x":-0.03,"y":-0.18},{"p":"IIc","k":"oil","c":2,"x":-0.015,"y":-0.25},{"p":"IIc","k":"oil","c":2,"x":0.0,"y":-0.32},{"p":"IIc","k":"oil","c":2,"x":-0.005,"y":-0.37},{"p":"IIc","k":"oil","c":2,"x":-0.02,"y":-0.4},{"p":"IIc","k":"oil","c":2,"x":-0.045,"y":-0.39},{"p":"IIc","k":"oil","c":2,"x":-0.065,"y":-0.34},{"p":"IIc","k":"oil","c":2,"x":-0.085,"y":-0.27},{"p":"IIc","k":"oil","c":2,"x":-0.1,"y":-0.19},{"p":"IIc","k":"oil","c":2,"x":-0.112,"y":-0.12},{"p":"IIc","k":"oil","c":2,"x":-0.108,"y":-0.06},{"p":"IIc","k":"oil","c":2,"x":-0.09,"y":-0.02},{"p":"IIc","k":"oil","c":2,"x":-0.075,"y":-0.01},
    {"p":"IIc","k":"oil","c":3,"x":-0.07,"y":-0.06},{"p":"IIc","k":"oil","c":3,"x":-0.055,"y":-0.1},{"p":"IIc","k":"oil","c":3,"x":-0.045,"y":-0.17},{"p":"IIc","k":"oil","c":3,"x":-0.03,"y":-0.24},{"p":"IIc","k":"oil","c":3,"x":-0.025,"y":-0.3},{"p":"IIc","k":"oil","c":3,"x":-0.035,"y":-0.345},{"p":"IIc","k":"oil","c":3,"x":-0.05,"y":-0.34},{"p":"IIc","k":"oil","c":3,"x":-0.065,"y":-0.29},{"p":"IIc","k":"oil","c":3,"x":-0.08,"y":-0.22},{"p":"IIc","k":"oil","c":3,"x":-0.09,"y":-0.15},{"p":"IIc","k":"oil","c":3,"x":-0.088,"y":-0.09},{"p":"IIc","k":"oil","c":3,"x":-0.07,"y":-0.06},
    {"p":"IIc","k":"oil","c":4,"x":-0.065,"y":-0.12},{"p":"IIc","k":"oil","c":4,"x":-0.055,"y":-0.16},{"p":"IIc","k":"oil","c":4,"x":-0.045,"y":-0.22},{"p":"IIc","k":"oil","c":4,"x":-0.045,"y":-0.27},{"p":"IIc","k":"oil","c":4,"x":-0.055,"y":-0.29},{"p":"IIc","k":"oil","c":4,"x":-0.065,"y":-0.26},{"p":"IIc","k":"oil","c":4,"x":-0.075,"y":-0.2},{"p":"IIc","k":"oil","c":4,"x":-0.075,"y":-0.14},{"p":"IIc","k":"oil","c":4,"x":-0.065,"y":-0.12},

    {"p":"IIa","t":"brine","x":0.181,"y":-0.04},{"p":"IIa","t":"oil","x":-0.05,"y":-0.493},
    {"p":"IIb","t":"brine","x":0.078,"y":0.119},{"p":"IIb","t":"oil","x":-0.004,"y":-0.524},
    {"p":"IIc","t":"brine","x":0.105,"y":0.066},{"p":"IIc","t":"oil","x":-0.111,"y":-0.463}
  ]},
  "columns": 3,
  "spacing": {"column": 7, "row": 28},
  "facet": {
    "field": "p",
    "type": "nominal",
    "sort": ["III", "IV", "V", "IIa", "IIb", "IIc"],
    "header": {
      "title": null,
      "labelExpr": "'facies ' + datum.value",
      "labelFont": "Liberation Sans",
      "labelFontSize": 14,
      "labelColor": "black",
      "labelPadding": 8
    }
  },
  "resolve": {"axis": {"x": "independent", "y": "independent"}},
  "spec": {
    "width": 189,
    "height": 232,
    "encoding": {
      "x": {
        "field": "x",
        "type": "quantitative",
        "scale": {"domain": [-0.3, 0.3], "nice": false, "zero": false},
        "axis": {"title": "R(0)", "values": [-0.2, 0, 0.2], "format": ".1~f", "labelPadding": 12, "titlePadding": 2}
      },
      "y": {
        "field": "y",
        "type": "quantitative",
        "scale": {"domain": [-0.6, 0.25], "nice": false, "zero": false},
        "axis": {"title": "G", "values": [-0.5, -0.4, -0.3, -0.2, -0.1, 0, 0.1, 0.2], "format": ".1~f", "labelPadding": 7, "titlePadding": 10}
      }
    },
    "layer": [
      {
        "transform": [{"filter": "!isValid(datum.t)"}],
        "mark": {"type": "line", "color": "black", "strokeWidth": 1, "clip": true},
        "encoding": {
          "detail": {"field": "c", "type": "nominal"},
          "strokeDash": {
            "field": "k",
            "type": "nominal",
            "scale": {"domain": ["brine", "oil"], "range": [[1, 0], [5, 4]]},
            "legend": null
          },
          "order": {"value": null}
        }
      },
      {
        "transform": [{"filter": "isValid(datum.t)"}],
        "mark": {"type": "text", "fontSize": 14, "font": "Liberation Sans", "color": "black", "align": "center", "baseline": "middle"},
        "encoding": {"text": {"field": "t", "type": "nominal"}}
      }
    ]
  }
}
